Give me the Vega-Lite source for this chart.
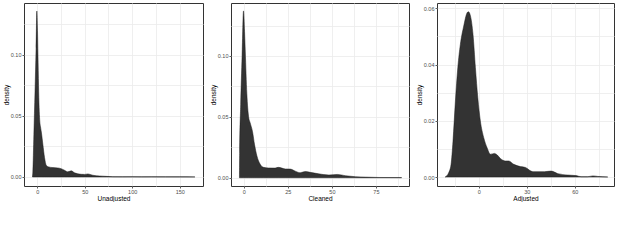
{
  "$schema": "https://vega.github.io/schema/vega-lite/v6.json",
  "background": "white",
  "padding": {"left": 2, "top": 2, "right": 0, "bottom": 0},
  "spacing": 5,
  "datasets": {
    "unadj": [
      {"value": -5.0, "density": 0}, {"value": -4.6, "density": 0.004}, {"value": -3.5, "density": 0.035},
      {"value": -2.3, "density": 0.07}, {"value": -1.2, "density": 0.105}, {"value": -0.4, "density": 0.136},
      {"value": 0.3, "density": 0.12}, {"value": 0.8, "density": 0.1}, {"value": 1.4, "density": 0.075},
      {"value": 2.0, "density": 0.057}, {"value": 2.6, "density": 0.047}, {"value": 3.5, "density": 0.041},
      {"value": 4.5, "density": 0.036}, {"value": 5.9, "density": 0.027}, {"value": 7.7, "density": 0.016},
      {"value": 9.5, "density": 0.0096}, {"value": 12.2, "density": 0.0082}, {"value": 16.4, "density": 0.0077},
      {"value": 21.7, "density": 0.0074}, {"value": 25.2, "density": 0.0068}, {"value": 28.7, "density": 0.0055},
      {"value": 32.2, "density": 0.0042}, {"value": 35.8, "density": 0.005}, {"value": 39.3, "density": 0.0034},
      {"value": 46.3, "density": 0.0022}, {"value": 50, "density": 0.0021}, {"value": 53.3, "density": 0.0025},
      {"value": 58.6, "density": 0.0014}, {"value": 65.6, "density": 0.0008}, {"value": 72.6, "density": 0.0005},
      {"value": 79.6, "density": 0.0002}, {"value": 90, "density": 0.00015}, {"value": 100, "density": 0.0002},
      {"value": 110, "density": 0.0001}, {"value": 120, "density": 0.00015}, {"value": 135, "density": 0.0001},
      {"value": 150, "density": 0.00008}, {"value": 166, "density": 0.00005}
    ],
    "clean": [
      {"value": -2.5, "density": 0}, {"value": -2.4, "density": 0.02}, {"value": -1.8, "density": 0.06},
      {"value": -1.0, "density": 0.1}, {"value": -0.2, "density": 0.137}, {"value": 0.4, "density": 0.12},
      {"value": 0.8, "density": 0.104}, {"value": 1.7, "density": 0.069}, {"value": 2.7, "density": 0.05},
      {"value": 3.6, "density": 0.045}, {"value": 4.9, "density": 0.038}, {"value": 6.1, "density": 0.027},
      {"value": 7.4, "density": 0.018}, {"value": 9.3, "density": 0.011}, {"value": 11.2, "density": 0.0085},
      {"value": 14, "density": 0.008}, {"value": 17.8, "density": 0.0079}, {"value": 19.7, "density": 0.0085},
      {"value": 23.5, "density": 0.0072}, {"value": 26.3, "density": 0.0071}, {"value": 29.2, "density": 0.0054},
      {"value": 32, "density": 0.0041}, {"value": 34.9, "density": 0.0051}, {"value": 37.7, "density": 0.0044},
      {"value": 42.5, "density": 0.0032}, {"value": 48.3, "density": 0.0022}, {"value": 53.1, "density": 0.0027},
      {"value": 57.8, "density": 0.0016}, {"value": 63.5, "density": 0.0008}, {"value": 69.1, "density": 0.0005},
      {"value": 76.8, "density": 0.0002}, {"value": 83, "density": 0.00015}, {"value": 89.6, "density": 0.0001}
    ],
    "adj": [
      {"value": -21, "density": 0}, {"value": -18.8, "density": 0.0015}, {"value": -17.3, "density": 0.0045},
      {"value": -16.1, "density": 0.0128}, {"value": -14.6, "density": 0.027}, {"value": -13.1, "density": 0.0389},
      {"value": -11.5, "density": 0.0472}, {"value": -9.4, "density": 0.0537}, {"value": -7.3, "density": 0.0584},
      {"value": -6.5, "density": 0.0588}, {"value": -5.2, "density": 0.0573}, {"value": -3.6, "density": 0.0507},
      {"value": -2.1, "density": 0.0389}, {"value": -0.6, "density": 0.0282}, {"value": 1.0, "density": 0.0199},
      {"value": 3.1, "density": 0.014}, {"value": 5.2, "density": 0.0104}, {"value": 7.3, "density": 0.0081},
      {"value": 9.8, "density": 0.0084}, {"value": 11.4, "density": 0.0079}, {"value": 13.5, "density": 0.0066},
      {"value": 16.6, "density": 0.0057}, {"value": 18.7, "density": 0.0057}, {"value": 21.9, "density": 0.0045},
      {"value": 26, "density": 0.0037}, {"value": 29.2, "density": 0.0034}, {"value": 32.3, "density": 0.0022},
      {"value": 33.8, "density": 0.0019}, {"value": 41, "density": 0.0019}, {"value": 45.2, "density": 0.0021},
      {"value": 49.4, "density": 0.0012}, {"value": 55.6, "density": 0.0007}, {"value": 60.8, "density": 0.0005},
      {"value": 63.9, "density": 0.0001}, {"value": 68, "density": 0.0001}, {"value": 71.3, "density": 0.0004},
      {"value": 74.4, "density": 0.0002}, {"value": 80.6, "density": 0}
    ]
  },
  "hconcat": [
    {
      "width": 179, "height": 183,
      "data": {"name": "unadj"},
      "mark": {"type": "area", "color": "#333333", "stroke": "#1a1a1a", "strokeWidth": 0.5, "interpolate": "monotone"},
      "encoding": {
        "x": {"field": "value", "type": "quantitative",
          "scale": {"domain": [-13.9, 174.5], "nice": false, "zero": false},
          "axis": {"title": "Unadjusted", "values": [0, 25, 50, 75, 100, 125, 150], "format": "d",
            "labelExpr": "indexof([0,50,100,150], datum.value) >= 0 ? datum.label : ''",
            "tickOpacity": {"condition": {"test": "indexof([0,50,100,150], datum.value) < 0", "value": 0}, "value": 1}}},
        "y": {"field": "density", "type": "quantitative",
          "scale": {"domain": [-0.0074, 0.1426], "nice": false, "zero": false},
          "axis": {"title": "density", "values": [0, 0.025, 0.05, 0.075, 0.1, 0.125], "format": ".2f",
            "labelExpr": "indexof([0,0.05,0.1], datum.value) >= 0 ? datum.label : ''",
            "tickOpacity": {"condition": {"test": "indexof([0,0.05,0.1], datum.value) < 0", "value": 0}, "value": 1}}}
      }
    },
    {
      "width": 178, "height": 183,
      "data": {"name": "clean"},
      "mark": {"type": "area", "color": "#333333", "stroke": "#1a1a1a", "strokeWidth": 0.5, "interpolate": "monotone"},
      "encoding": {
        "x": {"field": "value", "type": "quantitative",
          "scale": {"domain": [-7.3, 93.8], "nice": false, "zero": false},
          "axis": {"title": "Cleaned", "values": [0, 12.5, 25, 37.5, 50, 62.5, 75, 87.5], "format": "d",
            "labelExpr": "indexof([0,25,50,75], datum.value) >= 0 ? datum.label : ''",
            "tickOpacity": {"condition": {"test": "indexof([0,25,50,75], datum.value) < 0", "value": 0}, "value": 1}}},
        "y": {"field": "density", "type": "quantitative",
          "scale": {"domain": [-0.0068, 0.1435], "nice": false, "zero": false},
          "axis": {"title": "density", "values": [0, 0.025, 0.05, 0.075, 0.1, 0.125], "format": ".2f",
            "labelExpr": "indexof([0,0.05,0.1], datum.value) >= 0 ? datum.label : ''",
            "tickOpacity": {"condition": {"test": "indexof([0,0.05,0.1], datum.value) < 0", "value": 0}, "value": 1}}}
      }
    },
    {
      "width": 177, "height": 183,
      "data": {"name": "adj"},
      "mark": {"type": "area", "color": "#333333", "stroke": "#1a1a1a", "strokeWidth": 0.5, "interpolate": "monotone"},
      "encoding": {
        "x": {"field": "value", "type": "quantitative",
          "scale": {"domain": [-26.1, 84.5], "nice": false, "zero": false},
          "axis": {"title": "Adjusted", "values": [-15, 0, 15, 30, 45, 60, 75], "format": "d",
            "labelExpr": "indexof([0,30,60], datum.value) >= 0 ? datum.label : ''",
            "tickOpacity": {"condition": {"test": "indexof([0,30,60], datum.value) < 0", "value": 0}, "value": 1}}},
        "y": {"field": "density", "type": "quantitative",
          "scale": {"domain": [-0.0032, 0.0619], "nice": false, "zero": false},
          "axis": {"title": "density", "values": [0, 0.01, 0.02, 0.03, 0.04, 0.05, 0.06], "format": ".2f",
            "labelExpr": "indexof([0,0.02,0.04,0.06], datum.value) >= 0 ? datum.label : ''",
            "tickOpacity": {"condition": {"test": "indexof([0,0.02,0.04,0.06], datum.value) < 0", "value": 0}, "value": 1}}}
      }
    }
  ],
  "config": {
    "view": {"stroke": "#333333", "strokeWidth": 1},
    "axis": {
      "domain": false,
      "grid": true,
      "gridColor": "#EBEBEB",
      "gridWidth": 0.8,
      "tickColor": "#333333",
      "tickSize": 2,
      "tickWidth": 0.8,
      "labelFont": "Liberation Sans",
      "labelFontSize": 5.5,
      "labelColor": "#4D4D4D",
      "labelPadding": 1,
      "labelFlush": false,
      "labelOverlap": false,
      "titleFont": "Liberation Sans",
      "titleFontSize": 6.5,
      "titleFontWeight": "normal",
      "titleColor": "#000000"
    },
    "axisY": {"minExtent": 14, "maxExtent": 14, "titlePadding": 1},
    "axisX": {"titlePadding": 0.5}
  }
}
